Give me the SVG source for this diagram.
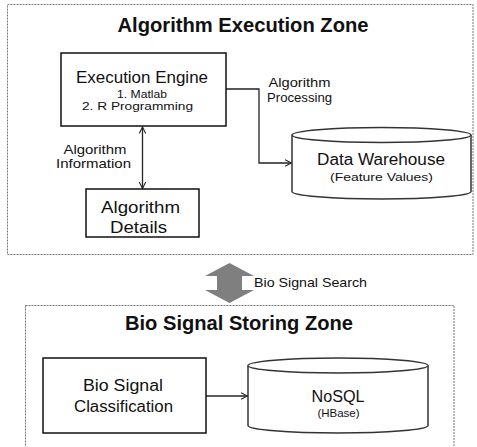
<svg xmlns="http://www.w3.org/2000/svg" width="477" height="447" viewBox="0 0 477 447">
  <style>
    text { font-family: "Liberation Sans", Arial, sans-serif; fill: #111; }
    .title { font-weight: bold; font-size: 20px; text-anchor: middle; }
    .big { font-size: 16px; text-anchor: middle; }
    .mid { font-size: 13px; text-anchor: middle; }
    .small { font-size: 11.5px; text-anchor: middle; }
    .zone { fill: none; stroke: #777; stroke-width: 1; stroke-dasharray: 2 1; }
    .box { fill: #fff; stroke: #111; stroke-width: 1.5; }
    .cyl { fill: #fff; stroke: #333; stroke-width: 1.5; }
    .link { fill: none; stroke: #222; stroke-width: 1.3; }
  </style>
  <defs>
    <marker id="open" viewBox="0 0 10 10" refX="9" refY="5" markerWidth="8" markerHeight="8" markerUnits="userSpaceOnUse" orient="auto-start-reverse">
      <path d="M1,1 L9,5 L1,9" fill="none" stroke="#222" stroke-width="1.3"/>
    </marker>
  </defs>

  <rect width="477" height="447" fill="#fff"/>

  <!-- zones -->
  <g id="zone-algorithm">
    <rect class="zone" x="7.5" y="4.5" width="465.5" height="250"/>
    <text class="title" x="243" y="32" textLength="251" lengthAdjust="spacingAndGlyphs">Algorithm Execution Zone</text>
  </g>
  <g id="zone-storing">
    <rect class="zone" x="25.5" y="305.5" width="428.5" height="150"/>
    <text class="title" x="239" y="330" textLength="228" lengthAdjust="spacingAndGlyphs">Bio Signal Storing Zone</text>
  </g>

  <!-- connectors -->
  <g id="connectors">
    <line class="link" x1="142.5" y1="127" x2="142.5" y2="188.5" marker-start="url(#open)" marker-end="url(#open)"/>
    <polyline class="link" points="226,89 259,89 259,163 291.5,163" marker-end="url(#open)"/>
    <line class="link" x1="206" y1="396" x2="247.5" y2="396" marker-end="url(#open)"/>
    <polygon fill="#7f7f7f" points="229.5,263 254,276 242,276 242,290 254,290 229.5,303 205,290 217,290 217,276 205,276"/>
    <text class="mid" x="254" y="287" style="text-anchor:start" textLength="113" lengthAdjust="spacingAndGlyphs">Bio Signal Search</text>
    <text class="mid" x="95" y="153.5" textLength="63" lengthAdjust="spacingAndGlyphs">Algorithm</text>
    <text class="mid" x="93.5" y="168" textLength="75" lengthAdjust="spacingAndGlyphs">Information</text>
    <text class="mid" x="299.5" y="87" textLength="62" lengthAdjust="spacingAndGlyphs">Algorithm</text>
    <text class="mid" x="299.5" y="102" textLength="65" lengthAdjust="spacingAndGlyphs">Processing</text>
  </g>

  <!-- nodes -->
  <g id="execution-engine">
    <rect class="box" x="61" y="53" width="165" height="73"/>
    <text class="big" x="142" y="82.5" textLength="132" lengthAdjust="spacingAndGlyphs">Execution Engine</text>
    <text class="small" x="142" y="97.5" textLength="50" lengthAdjust="spacingAndGlyphs">1. Matlab</text>
    <text class="small" x="137.5" y="110" textLength="111" lengthAdjust="spacingAndGlyphs">2. R  Programming</text>
  </g>

  <g id="algorithm-details">
    <rect class="box" x="86" y="189" width="113" height="48"/>
    <text class="big" x="140.5" y="213" textLength="79" lengthAdjust="spacingAndGlyphs">Algorithm</text>
    <text class="big" x="138.5" y="233" textLength="57" lengthAdjust="spacingAndGlyphs">Details</text>
  </g>

  <g id="data-warehouse">
    <path class="cyl" d="M292,135 A89.5,7.5 0 0 1 471,135 L471,191.5 A89.5,7.5 0 0 1 292,191.5 Z"/>
    <path class="cyl" d="M292,135 A89.5,7.5 0 0 0 471,135"/>
    <text class="big" x="381" y="165" textLength="128" lengthAdjust="spacingAndGlyphs">Data Warehouse</text>
    <text class="small" x="381.5" y="180.5" textLength="103" lengthAdjust="spacingAndGlyphs">(Feature  Values)</text>
  </g>

  <g id="bio-signal-classification">
    <rect class="box" x="43" y="358" width="163" height="75"/>
    <text class="big" x="123" y="390.5" textLength="80" lengthAdjust="spacingAndGlyphs">Bio Signal</text>
    <text class="big" x="123.5" y="411.5" textLength="99" lengthAdjust="spacingAndGlyphs">Classification</text>
  </g>

  <g id="nosql">
    <path class="cyl" d="M248,365.5 A90,7.5 0 0 1 428,365.5 L428,425.5 A90,7.5 0 0 1 248,425.5 Z"/>
    <path class="cyl" d="M248,365.5 A90,7.5 0 0 0 428,365.5"/>
    <text class="big" x="338" y="401.5" textLength="53" lengthAdjust="spacingAndGlyphs">NoSQL</text>
    <text class="small" x="338.5" y="417">(HBase)</text>
  </g>
</svg>
